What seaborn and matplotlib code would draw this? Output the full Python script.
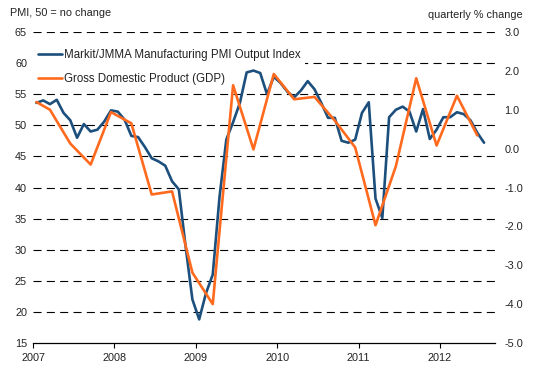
import numpy as np
import pandas as pd
import matplotlib
matplotlib.use("Agg")
import matplotlib.pyplot as plt
import seaborn as sns

# ---------------- data ----------------
pmi_label = "Markit/JMMA Manufacturing PMI Output Index"
gdp_label = "Gross Domestic Product (GDP)"

# monthly PMI output index, Jan 2007 .. Jul 2012
pmi_2007 = [53.6, 54.0, 53.4, 54.1, 52.0, 50.8, 48.0, 50.2, 49.0, 49.3, 50.6, 52.4]
pmi_2008 = [52.2, 50.9, 48.3, 48.1, 46.5, 44.7, 44.2, 43.5, 41.0, 39.7, 30.5, 22.0]
pmi_2009 = [18.8, 23.0, 26.0, 38.5, 47.7, 50.5, 53.6, 58.5, 58.8, 58.4, 55.0, 57.8]
pmi_2010 = [56.8, 55.4, 54.5, 55.6, 57.1, 55.8, 53.6, 51.2, 51.2, 47.5, 47.2, 47.7]
pmi_2011 = [52.0, 53.7, 38.2, 35.1, 51.3, 52.5, 53.0, 52.2, 49.0, 52.6, 47.8, 49.3]
pmi_2012 = [51.3, 51.3, 52.1, 51.8, 50.8, 48.8, 47.2]
pmi_values = pmi_2007 + pmi_2008 + pmi_2009 + pmi_2010 + pmi_2011 + pmi_2012
pmi_months = pd.period_range("2007-01", periods=len(pmi_values), freq="M")

# quarterly GDP % change (plotted at the last month of each quarter)
gdp_months = ["2007-01"] + [f"{y}-{m:02d}" for y in range(2007, 2013) for m in (3, 6, 9, 12)][:22]
gdp_values = [1.20,
              1.00, 0.13, -0.41, 0.94,
              0.65, -1.18, -1.10, -3.19,
              -4.00, 1.63, -0.02, 1.92,
              1.27, 1.33, 0.72, 0.03,
              -1.97, -0.45, 1.81, 0.08,
              1.36, 0.34]

left_ticks = [15, 20, 25, 30, 35, 40, 45, 50, 55, 60, 65]
right_ticks = [-5, -4, -3, -2, -1, 0, 1, 2, 3]
right_labels = ["-5.0", "-4.0", "-3.0", "-2.0", "-1.0", "0.0", "1.0", "2.0", "3.0"]
year_ticks = [2007, 2008, 2009, 2010, 2011, 2012]


def to_dec(period):
    p = pd.Period(period, freq="M")
    return p.year + (p.month - 0.5) / 12.0


pmi_df = pd.DataFrame({"t": [to_dec(p) for p in pmi_months], "v": pmi_values})
gdp_df = pd.DataFrame({"t": [to_dec(p) for p in gdp_months], "v": gdp_values})

# ---------------- style ----------------
sns.set_style("white")
plt.rcParams["font.family"] = ["Liberation Sans", "DejaVu Sans"]
plt.rcParams["axes.unicode_minus"] = False
plt.rcParams["lines.scale_dashes"] = False

blue = "#1D4F7C"
orange = "#FF6A1E"
txt = "#222222"

fig = plt.figure(figsize=(5.36, 3.77), dpi=100)
ax = fig.add_axes([33 / 536, 1 - 343 / 377, 462 / 536, 311 / 377])
ax2 = ax.twinx()

for v in left_ticks[1:]:
    ax.axhline(v, color="black", lw=0.8, ls=(0, (5.8, 3.8)), zorder=1)

sns.lineplot(data=pmi_df, x="t", y="v", ax=ax, color=blue, lw=1.9,
             label=pmi_label, zorder=2)
sns.lineplot(data=gdp_df, x="t", y="v", ax=ax2, color=orange, lw=1.9,
             label=gdp_label, zorder=2)

ax.set_xlim(2007.0, 2012.676)
ax.set_ylim(15, 65)
ax2.set_ylim(-5, 3)

ax.set_xticks(year_ticks)
ax.set_xticklabels([str(y) for y in year_ticks])
ax.set_yticks(left_ticks)
ax.set_yticklabels([str(v) for v in left_ticks])
ax2.set_yticks(right_ticks)
ax2.set_yticklabels(right_labels)

ax.set_xlabel("")
ax.set_ylabel("")
ax2.set_ylabel("")

for a in (ax, ax2):
    for s in ("top", "right", "left"):
        a.spines[s].set_visible(False)
ax2.spines["bottom"].set_visible(False)
ax.spines["bottom"].set_color("black")
ax.spines["bottom"].set_linewidth(0.9)

ax.tick_params(axis="x", direction="out", length=3.8, width=0.8, color="black",
               pad=3.2, labelsize=7.8, labelcolor=txt, bottom=True)
ax.tick_params(axis="y", length=0, pad=4.3, labelsize=7.8, labelcolor=txt)
ax2.tick_params(axis="y", length=0, pad=6.6, labelsize=7.8, labelcolor=txt)

# combined legend
h1, l1 = ax.get_legend_handles_labels()
h2, l2 = ax2.get_legend_handles_labels()
if ax2.get_legend() is not None:
    ax2.get_legend().remove()
leg = ax.legend(h1 + h2, l1 + l2, loc="upper left",
                bbox_to_anchor=(0.0, 0.96), borderaxespad=0,
                fontsize=8.3, frameon=True, facecolor="white", edgecolor="none",
                framealpha=1, fancybox=False, borderpad=0.4,
                handlelength=2.1, handletextpad=0.15, labelspacing=1.05)
for t in leg.get_texts():
    t.set_color(txt)
leg.set_zorder(1.5)

fig.text(10 / 536, 1 - 13 / 377, "PMI, 50 = no change", fontsize=7.8,
         color=txt, ha="left", va="center")
fig.text(523 / 536, 1 - 15 / 377, "quarterly % change", fontsize=7.8,
         color=txt, ha="right", va="center")

fig.savefig("out.png", dpi=100)
